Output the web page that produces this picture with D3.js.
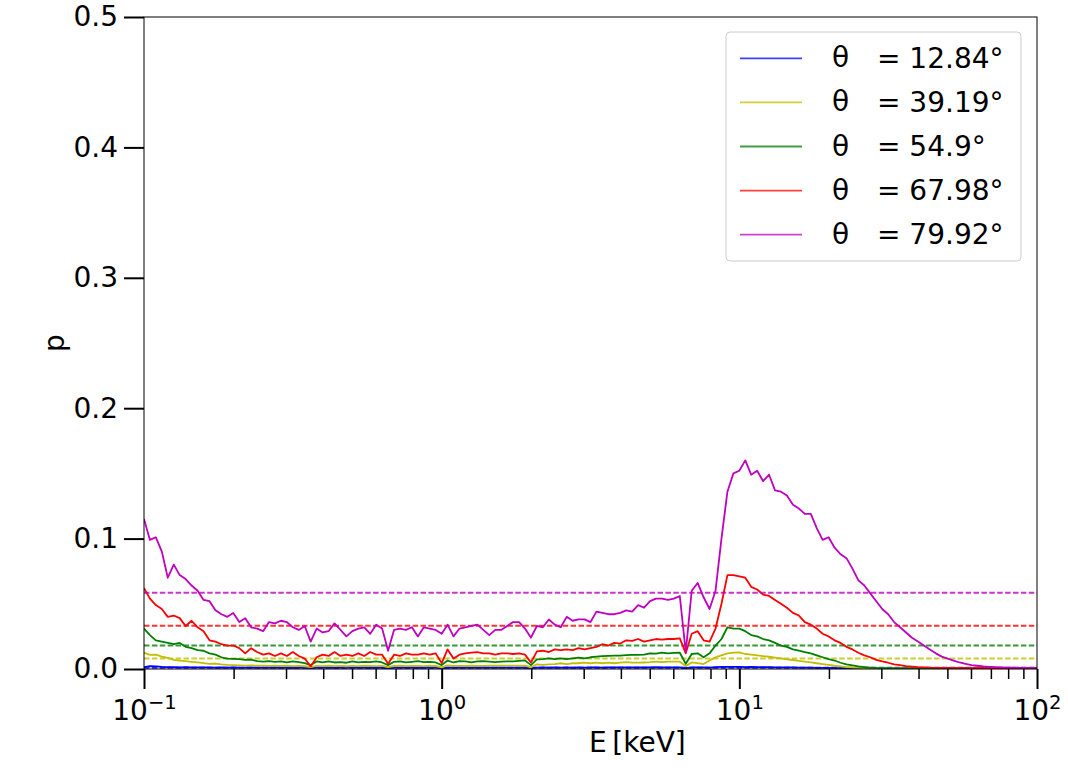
<!DOCTYPE html>
<html><head><meta charset="utf-8">
<script src="https://cdn.jsdelivr.net/npm/d3@7"></script>
<style>
body{margin:0;background:#fff}
svg{display:block}
text{font-family:"DejaVu Sans",sans-serif;fill:#000}
</style>
</head><body>
<svg id="chart" width="1068" height="777"></svg>
<script>
// ---------------- data ----------------
const energies = [
 0.1,0.1047,0.1096,0.1148,0.1202,0.1259,0.1318,0.1380,0.1445,0.1514,
 0.1585,0.1660,0.1738,0.1820,0.1905,0.1995,0.2089,0.2188,0.2291,0.2399,
 0.2512,0.2630,0.2754,0.2884,0.3020,0.3162,0.3311,0.3467,0.3631,0.3802,
 0.3981,0.4169,0.4365,0.4571,0.4786,0.5012,0.5248,0.5495,0.5754,0.6026,
 0.6310,0.6607,0.6918,0.7244,0.7586,0.7943,0.8318,0.8710,0.9120,0.9550,
 1.000,1.047,1.096,1.148,1.202,1.259,1.318,1.380,1.445,1.514,
 1.585,1.660,1.738,1.820,1.905,1.995,2.089,2.188,2.291,2.399,
 2.512,2.630,2.754,2.884,3.020,3.162,3.311,3.467,3.631,3.802,
 3.981,4.169,4.365,4.571,4.786,5.012,5.248,5.495,5.754,6.026,
 6.310,6.607,6.918,7.244,7.586,7.943,8.318,8.710,9.120,9.550,
 10.00,10.47,10.96,11.48,12.02,12.59,13.18,13.80,14.45,15.14,
 15.85,16.60,17.38,18.20,19.05,19.95,20.89,21.88,22.91,23.99,
 25.12,26.30,27.54,28.84,30.20,31.62,33.11,34.67,36.31,38.02,
 39.81,41.69,43.65,45.71,47.86,50.12,52.48,54.95,57.54,60.26,
 63.10,66.07,69.18,72.44,75.86,79.43,83.18,87.10,91.20,95.50,100.0
];

const pTheta1284 = [
 0.0015,0.0022,0.0020,0.0016,0.0014,0.0015,0.0013,0.0014,0.0012,0.0013,
 0.0012,0.0013,0.0011,0.0012,0.0011,0.0012,0.0010,0.0011,0.0012,0.0010,
 0.0011,0.0010,0.0012,0.0010,0.0011,0.0009,0.0011,0.0010,0.0007,0.0011,
 0.0010,0.0011,0.0009,0.0011,0.0010,0.0012,0.0010,0.0011,0.0009,0.0011,
 0.0010,0.0007,0.0011,0.0010,0.0011,0.0010,0.0009,0.0011,0.0010,0.0011,
 0.0007,0.0011,0.0010,0.0011,0.0010,0.0011,0.0010,0.0012,0.0010,0.0011,
 0.0010,0.0011,0.0010,0.0011,0.0012,0.0007,0.0011,0.0012,0.0011,0.0012,
 0.0011,0.0012,0.0011,0.0012,0.0011,0.0012,0.0012,0.0011,0.0012,0.0013,
 0.0012,0.0013,0.0012,0.0013,0.0012,0.0013,0.0014,0.0013,0.0012,0.0013,
 0.0013,0.0006,0.0012,0.0013,0.0012,0.0011,0.0014,0.0016,0.0017,0.0016,
 0.0017,0.0015,0.0016,0.0015,0.0014,0.0015,0.0013,0.0013,0.0012,0.0012,
 0.0011,0.0010,0.0010,0.0009,0.0008,0.0008,0.0007,0.0007,0.0006,0.0006,
 0.0005,0.0005,0.0005,0.0005,0.0005,0.0005,0.0005,0.0005,0.0005,0.0005,
 0.0004,0.0004,0.0004,0.0004,0.0004,0.0004,0.0004,0.0004,0.0004,0.0004,
 0.0004,0.0004,0.0004,0.0004,0.0004,0.0004,0.0004,0.0004,0.0004,0.0004,0.0004
];

const pTheta3919 = [
 0.0125,0.0108,0.0110,0.0095,0.0085,0.0070,0.0065,0.0060,0.0055,0.0050,
 0.0045,0.0040,0.0042,0.0035,0.0032,0.0030,0.0028,0.0026,0.0028,0.0025,
 0.0026,0.0024,0.0026,0.0023,0.0025,0.0022,0.0024,0.0021,0.0015,0.0024,
 0.0022,0.0025,0.0022,0.0024,0.0021,0.0024,0.0022,0.0025,0.0023,0.0022,
 0.0024,0.0014,0.0023,0.0025,0.0022,0.0024,0.0023,0.0022,0.0025,0.0023,
 0.0013,0.0027,0.0023,0.0024,0.0023,0.0025,0.0023,0.0024,0.0026,0.0025,
 0.0026,0.0025,0.0026,0.0025,0.0026,0.0013,0.0036,0.0031,0.0035,0.0038,
 0.0044,0.0038,0.0044,0.0044,0.0049,0.0044,0.0049,0.0044,0.0049,0.0044,
 0.0049,0.0053,0.0049,0.0049,0.0050,0.0052,0.0056,0.0052,0.0056,0.0056,
 0.0056,0.0022,0.0050,0.0045,0.0038,0.0065,0.0090,0.0105,0.0120,0.0125,
 0.0128,0.0115,0.0110,0.0105,0.0098,0.0094,0.0088,0.0082,0.0074,0.0069,
 0.0062,0.0056,0.0050,0.0044,0.0038,0.0031,0.0025,0.0020,0.0015,0.0011,
 0.0008,0.0006,0.0005,0.0005,0.0004,0.0004,0.0004,0.0004,0.0004,0.0004,
 0.0004,0.0004,0.0004,0.0004,0.0004,0.0004,0.0004,0.0004,0.0004,0.0004,
 0.0004,0.0004,0.0004,0.0004,0.0004,0.0004,0.0004,0.0004,0.0004,0.0004,0.0004
];

const pTheta549 = [
 0.0310,0.0260,0.0220,0.0210,0.0200,0.0190,0.0200,0.0170,0.0160,0.0145,
 0.0140,0.0120,0.0110,0.0090,0.0080,0.0078,0.0075,0.0070,0.0072,0.0060,
 0.0056,0.0060,0.0055,0.0058,0.0050,0.0058,0.0052,0.0045,0.0030,0.0058,
 0.0050,0.0058,0.0050,0.0052,0.0048,0.0058,0.0050,0.0055,0.0052,0.0058,
 0.0050,0.0030,0.0055,0.0058,0.0050,0.0055,0.0060,0.0052,0.0055,0.0050,
 0.0030,0.0065,0.0050,0.0060,0.0058,0.0050,0.0058,0.0060,0.0056,0.0052,
 0.0056,0.0058,0.0058,0.0062,0.0066,0.0030,0.0074,0.0075,0.0082,0.0076,
 0.0082,0.0076,0.0082,0.0088,0.0082,0.0090,0.0095,0.0098,0.0100,0.0103,
 0.0103,0.0107,0.0108,0.0108,0.0110,0.0120,0.0118,0.0125,0.0120,0.0124,
 0.0125,0.0040,0.0115,0.0120,0.0090,0.0120,0.0180,0.0230,0.0320,0.0310,
 0.0310,0.0290,0.0260,0.0250,0.0230,0.0220,0.0200,0.0180,0.0170,0.0150,
 0.0140,0.0130,0.0120,0.0105,0.0090,0.0075,0.0065,0.0048,0.0035,0.0028,
 0.0020,0.0015,0.0011,0.0008,0.0007,0.0006,0.0005,0.0005,0.0005,0.0005,
 0.0004,0.0004,0.0004,0.0004,0.0004,0.0004,0.0004,0.0004,0.0004,0.0004,
 0.0004,0.0004,0.0004,0.0004,0.0004,0.0004,0.0004,0.0004,0.0004,0.0004,0.0004
];

const pTheta6798 = [
 0.0620,0.0540,0.0490,0.0460,0.0400,0.0410,0.0390,0.0330,0.0370,0.0320,
 0.0290,0.0220,0.0210,0.0190,0.0180,0.0180,0.0160,0.0120,0.0160,0.0130,
 0.0110,0.0120,0.0100,0.0120,0.0100,0.0130,0.0100,0.0080,0.0020,0.0090,
 0.0110,0.0100,0.0130,0.0100,0.0110,0.0100,0.0120,0.0100,0.0130,0.0110,
 0.0110,0.0040,0.0110,0.0100,0.0120,0.0110,0.0110,0.0120,0.0110,0.0120,
 0.0045,0.0150,0.0080,0.0110,0.0120,0.0125,0.0130,0.0120,0.0120,0.0110,
 0.0120,0.0120,0.0115,0.0120,0.0110,0.0050,0.0135,0.0140,0.0130,0.0150,
 0.0145,0.0150,0.0145,0.0160,0.0150,0.0160,0.0170,0.0190,0.0180,0.0200,
 0.0195,0.0220,0.0215,0.0230,0.0210,0.0220,0.0230,0.0225,0.0230,0.0230,
 0.0235,0.0120,0.0270,0.0290,0.0220,0.0210,0.0310,0.0500,0.0720,0.0720,
 0.0710,0.0700,0.0630,0.0610,0.0570,0.0560,0.0530,0.0500,0.0470,0.0430,
 0.0410,0.0360,0.0340,0.0310,0.0270,0.0250,0.0220,0.0200,0.0170,0.0150,
 0.0125,0.0105,0.0090,0.0070,0.0058,0.0048,0.0035,0.0030,0.0022,0.0018,
 0.0014,0.0012,0.0010,0.0009,0.0008,0.0008,0.0007,0.0007,0.0007,0.0006,
 0.0006,0.0006,0.0006,0.0006,0.0006,0.0006,0.0006,0.0006,0.0006,0.0006,0.0006
];

const pTheta7992 = [
 0.115,0.099,0.101,0.090,0.070,0.080,0.072,0.069,0.064,0.060,
 0.053,0.052,0.045,0.042,0.040,0.043,0.036,0.039,0.032,0.031,
 0.029,0.036,0.035,0.037,0.036,0.032,0.030,0.033,0.021,0.031,
 0.028,0.029,0.035,0.030,0.025,0.029,0.031,0.032,0.027,0.034,
 0.031,0.014,0.030,0.031,0.030,0.032,0.025,0.032,0.031,0.030,
 0.027,0.034,0.025,0.031,0.032,0.033,0.034,0.030,0.026,0.030,
 0.030,0.033,0.036,0.036,0.031,0.024,0.033,0.032,0.038,0.034,
 0.032,0.040,0.037,0.038,0.038,0.036,0.044,0.043,0.042,0.042,
 0.043,0.045,0.044,0.049,0.047,0.052,0.054,0.054,0.053,0.054,
 0.056,0.013,0.060,0.066,0.055,0.046,0.060,0.100,0.136,0.150,
 0.152,0.160,0.149,0.152,0.144,0.149,0.137,0.136,0.133,0.126,
 0.123,0.119,0.119,0.108,0.099,0.101,0.093,0.088,0.085,0.077,
 0.068,0.064,0.058,0.052,0.046,0.042,0.036,0.032,0.028,0.024,
 0.021,0.018,0.015,0.012,0.0095,0.008,0.0065,0.005,0.004,0.003,
 0.0025,0.002,0.0017,0.0015,0.0012,0.001,0.001,0.0009,0.0008,0.0008,0.0008
];

const seriesValues = [pTheta1284, pTheta3919, pTheta549, pTheta6798, pTheta7992];
const seriesLabels = ["= 12.84°", "= 39.19°", "= 54.9°", "= 67.98°", "= 79.92°"];
const seriesMeans = [0.0010, 0.0080, 0.0180, 0.0332, 0.0585];
const seriesColors = ["#0000ff", "#bfbf00", "#008000", "#ff0000", "#bf00bf"];

const yTicks = [0.0, 0.1, 0.2, 0.3, 0.4, 0.5];
const xMajorTicks = [0.1, 1, 10, 100];
const xMajorExponents = ["−1", "0", "1", "2"];
const xMinorTicks = [0.2,0.3,0.4,0.5,0.6,0.7,0.8,0.9, 2,3,4,5,6,7,8,9, 20,30,40,50,60,70,80,90];

// ---------------- layout ----------------
const svg = d3.select("#chart");
const L = 144, T = 17, R = 1037, B = 669;

const x = d3.scaleLog().domain([0.1, 100]).range([L, R]);
const y = d3.scaleLinear().domain([0, 0.5]).range([B, T]);

svg.append("defs").append("clipPath").attr("id", "plotclip")
  .append("rect").attr("x", L).attr("y", T).attr("width", R - L).attr("height", B - T);

const plot = svg.append("g").attr("clip-path", "url(#plotclip)");

const line = d3.line()
  .x((d, i) => x(energies[i]))
  .y(d => y(d));

seriesValues.forEach((vals, s) => {
  plot.append("path")
    .datum(vals)
    .attr("d", line)
    .attr("fill", "none")
    .attr("stroke", seriesColors[s])
    .attr("stroke-width", 1.8)
    .attr("stroke-linejoin", "round");
  plot.append("line")
    .attr("x1", x(0.1)).attr("x2", x(100))
    .attr("y1", y(seriesMeans[s])).attr("y2", y(seriesMeans[s]))
    .attr("stroke", seriesColors[s])
    .attr("stroke-opacity", 0.8)
    .attr("stroke-width", 2)
    .attr("stroke-dasharray", "5.5,2.4");
});

// frame
svg.append("rect")
  .attr("x", L).attr("y", T).attr("width", R - L).attr("height", B - T)
  .attr("fill", "none").attr("stroke", "#000").attr("stroke-width", 1);

// y axis
const yAxis = svg.append("g").attr("transform", `translate(${L},0)`)
  .call(d3.axisLeft(y).tickValues(yTicks).tickSize(20).tickPadding(6).tickFormat(d3.format(".1f")));
yAxis.select(".domain").remove();
yAxis.selectAll(".tick line").attr("stroke-width", 2);
yAxis.selectAll(".tick text").attr("font-size", 28).attr("font-family", "DejaVu Sans");

// x axis minor
const xMinor = svg.append("g").attr("transform", `translate(0,${B})`)
  .call(d3.axisBottom(x).tickValues(xMinorTicks).tickSize(10).tickFormat(() => ""));
xMinor.select(".domain").remove();
xMinor.selectAll(".tick line").attr("stroke-width", 1.5);

// x axis major
const xMajor = svg.append("g").attr("transform", `translate(0,${B})`)
  .call(d3.axisBottom(x).tickValues(xMajorTicks).tickSize(20).tickFormat(() => ""));
xMajor.select(".domain").remove();
xMajor.selectAll(".tick line").attr("stroke-width", 2);
xMajor.selectAll(".tick text").remove();
xMajor.selectAll(".tick").each(function(d, i) {
  const t = d3.select(this).append("text")
    .attr("y", 51).attr("text-anchor", "middle")
    .attr("font-size", 28).attr("font-family", "DejaVu Sans").attr("fill", "#000");
  t.append("tspan").text("10");
  t.append("tspan").attr("font-size", 19.6).attr("dy", -11).text(xMajorExponents[i]);
});

// axis labels
svg.append("text")
  .attr("x", 589).attr("y", 752)
  .attr("font-size", 28)
  .text("E\u2009[keV]");

svg.append("text")
  .attr("transform", "translate(64,343) rotate(-90)")
  .attr("text-anchor", "middle")
  .attr("font-size", 28)
  .text("p");

// legend
const lg = svg.append("g");
lg.append("rect")
  .attr("x", 726).attr("y", 32).attr("width", 295).attr("height", 229)
  .attr("rx", 4).attr("ry", 4)
  .attr("fill", "#fff").attr("fill-opacity", 0.8)
  .attr("stroke", "#cccccc").attr("stroke-width", 1);
seriesLabels.forEach((lab, s) => {
  const cy = 58.3 + s * 44.1;
  lg.append("line")
    .attr("x1", 740).attr("x2", 802).attr("y1", cy).attr("y2", cy)
    .attr("stroke", seriesColors[s]).attr("stroke-opacity", 0.75).attr("stroke-width", 1.8);
  lg.append("text")
    .attr("x", 832).attr("y", cy + 9)
    .attr("font-family", "Liberation Serif").attr("font-size", 28)
    .text("θ");
  lg.append("text")
    .attr("x", 877).attr("y", cy + 9.5)
    .attr("font-size", 28)
    .text(lab);
});
</script>
</body></html>
